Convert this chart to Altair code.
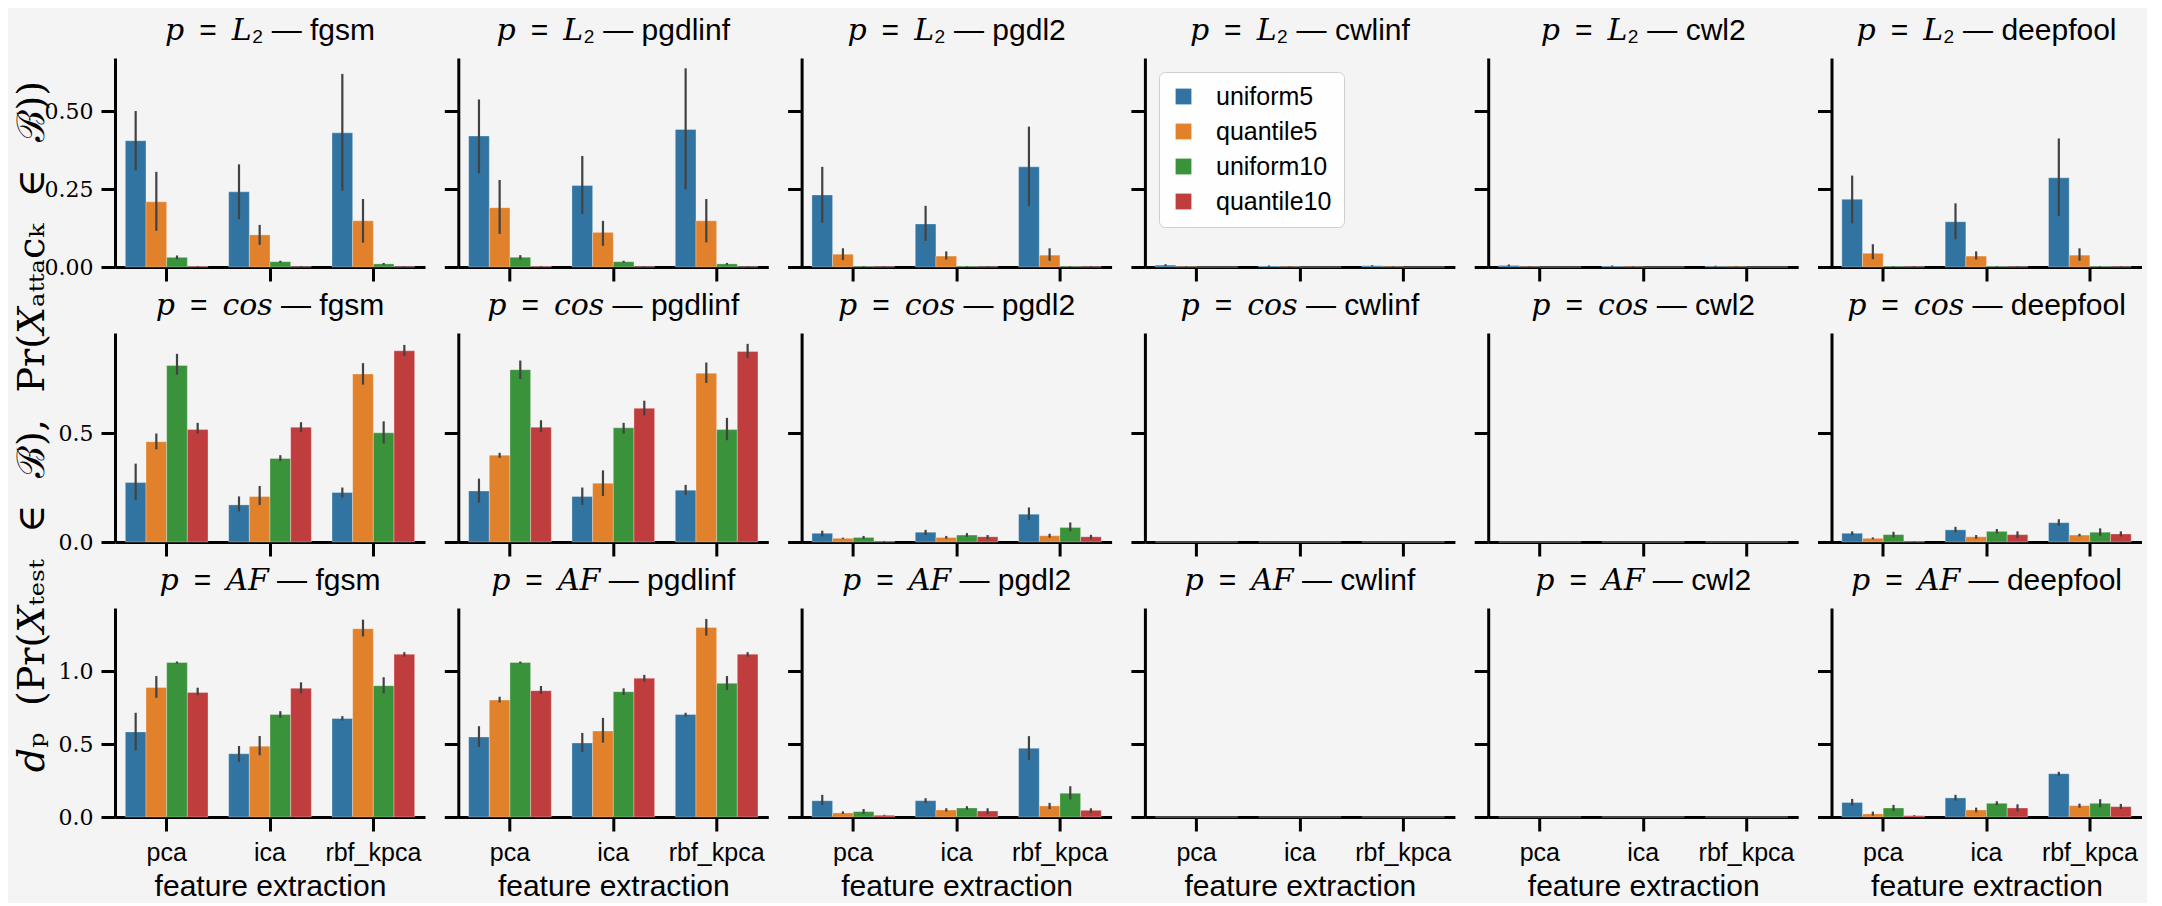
import altair as alt
import pandas as pd

METRICS = ["L2", "cos", "AF"]
METRIC_TEX = {"L2": "𝐿₂", "cos": "𝑐𝑜𝑠", "AF": "𝐴𝐹"}
ATTACKS = ["fgsm", "pgdlinf", "pgdl2", "cwlinf", "cwl2", "deepfool"]
METHODS = ["pca", "ica", "rbf_kpca"]
BINNINGS = ["uniform5", "quantile5", "uniform10", "quantile10"]
COLORS = ["#3274a1", "#e1812c", "#3a923a", "#c03d3e"]
Y_MAX = {"L2": 0.67, "cos": 0.963, "AF": 1.434}
Y_TICKS = {"L2": [0, 0.25, 0.5], "cos": [0, 0.5], "AF": [0, 0.5, 1.0]}
Y_FMT = {"L2": ".2f", "cos": ".1f", "AF": ".1f"}
SP = "\u2002\u2009"
Y_TITLE = f"𝑑ₚ{SP}(Pr(𝑋ₜₑₛₜ{SP}∈{SP}ℬ),{SP}Pr(𝑋ₐₜₜₐcₖ{SP}∈{SP}ℬ))"
X_TITLE = "feature extraction"

# 12 values per panel: [pca: u5,q5,u10,q10, ica: ..., rbf_kpca: ...]
ZERO = [0.0] * 12

MEAN_L2 = {
    "fgsm":     [0.405, 0.209, 0.031, 0.002, 0.241, 0.103, 0.017, 0.001, 0.430, 0.148, 0.010, 0.001],
    "pgdlinf":  [0.420, 0.190, 0.031, 0.002, 0.261, 0.111, 0.017, 0.001, 0.441, 0.148, 0.010, 0.001],
    "pgdl2":    [0.231, 0.041, 0.002, 0.001, 0.138, 0.035, 0.002, 0.001, 0.321, 0.038, 0.002, 0.001],
    "cwlinf":   [0.006, 0.001, 0.000, 0.000, 0.003, 0.001, 0.000, 0.000, 0.004, 0.001, 0.000, 0.000],
    "cwl2":     [0.005, 0.001, 0.000, 0.000, 0.003, 0.001, 0.000, 0.000, 0.002, 0.001, 0.000, 0.000],
    "deepfool": [0.217, 0.044, 0.002, 0.001, 0.145, 0.035, 0.002, 0.001, 0.286, 0.038, 0.002, 0.001],
}
LO_L2 = {
    "fgsm":     [0.310, 0.116, 0.025, 0.001, 0.153, 0.071, 0.014, 0.000, 0.245, 0.078, 0.007, 0.000],
    "pgdlinf":  [0.300, 0.106, 0.024, 0.001, 0.170, 0.068, 0.014, 0.000, 0.249, 0.079, 0.007, 0.000],
    "pgdl2":    [0.142, 0.022, 0.001, 0.000, 0.084, 0.024, 0.001, 0.000, 0.196, 0.020, 0.001, 0.000],
    "cwlinf":   [0.003, 0.000, 0.000, 0.000, 0.001, 0.000, 0.000, 0.000, 0.002, 0.000, 0.000, 0.000],
    "cwl2":     [0.002, 0.000, 0.000, 0.000, 0.001, 0.000, 0.000, 0.000, 0.001, 0.000, 0.000, 0.000],
    "deepfool": [0.140, 0.025, 0.001, 0.000, 0.089, 0.024, 0.001, 0.000, 0.163, 0.020, 0.001, 0.000],
}
HI_L2 = {
    "fgsm":     [0.500, 0.305, 0.037, 0.003, 0.329, 0.135, 0.020, 0.002, 0.619, 0.218, 0.013, 0.002],
    "pgdlinf":  [0.537, 0.279, 0.038, 0.003, 0.356, 0.148, 0.020, 0.002, 0.637, 0.218, 0.013, 0.002],
    "pgdl2":    [0.321, 0.060, 0.003, 0.002, 0.196, 0.050, 0.003, 0.002, 0.450, 0.060, 0.003, 0.002],
    "cwlinf":   [0.009, 0.002, 0.000, 0.000, 0.005, 0.002, 0.000, 0.000, 0.006, 0.002, 0.000, 0.000],
    "cwl2":     [0.008, 0.002, 0.000, 0.000, 0.005, 0.002, 0.000, 0.000, 0.004, 0.002, 0.000, 0.000],
    "deepfool": [0.293, 0.073, 0.003, 0.002, 0.204, 0.050, 0.003, 0.002, 0.412, 0.060, 0.003, 0.002],
}

MEAN_COS = {
    "fgsm":     [0.274, 0.462, 0.813, 0.518, 0.171, 0.210, 0.385, 0.529, 0.228, 0.774, 0.503, 0.881],
    "pgdlinf":  [0.235, 0.400, 0.794, 0.529, 0.210, 0.271, 0.526, 0.616, 0.239, 0.778, 0.518, 0.878],
    "pgdl2":    [0.040, 0.017, 0.021, 0.003, 0.045, 0.021, 0.032, 0.024, 0.128, 0.029, 0.067, 0.024],
    "cwlinf":   ZERO,
    "cwl2":     ZERO,
    "deepfool": [0.040, 0.017, 0.034, 0.002, 0.056, 0.024, 0.049, 0.034, 0.089, 0.032, 0.045, 0.037],
}
LO_COS = {
    "fgsm":     [0.193, 0.427, 0.771, 0.500, 0.141, 0.171, 0.373, 0.506, 0.205, 0.725, 0.454, 0.858],
    "pgdlinf":  [0.182, 0.388, 0.751, 0.506, 0.171, 0.212, 0.500, 0.583, 0.217, 0.733, 0.469, 0.847],
    "pgdl2":    [0.026, 0.014, 0.014, 0.001, 0.032, 0.015, 0.024, 0.014, 0.102, 0.020, 0.049, 0.014],
    "cwlinf":   ZERO,
    "cwl2":     ZERO,
    "deepfool": [0.032, 0.013, 0.021, 0.001, 0.045, 0.015, 0.040, 0.018, 0.075, 0.026, 0.029, 0.026],
}
HI_COS = {
    "fgsm":     [0.361, 0.500, 0.867, 0.549, 0.210, 0.258, 0.400, 0.552, 0.251, 0.824, 0.556, 0.908],
    "pgdlinf":  [0.292, 0.411, 0.836, 0.561, 0.251, 0.330, 0.549, 0.651, 0.263, 0.827, 0.572, 0.913],
    "pgdl2":    [0.052, 0.020, 0.028, 0.005, 0.056, 0.028, 0.041, 0.032, 0.159, 0.038, 0.090, 0.033],
    "cwlinf":   ZERO,
    "cwl2":     ZERO,
    "deepfool": [0.049, 0.021, 0.047, 0.003, 0.070, 0.032, 0.060, 0.049, 0.105, 0.038, 0.063, 0.049],
}

MEAN_AF = {
    "fgsm":     [0.584, 0.889, 1.060, 0.855, 0.434, 0.485, 0.703, 0.883, 0.676, 1.292, 0.901, 1.117],
    "pgdlinf":  [0.549, 0.802, 1.060, 0.867, 0.508, 0.590, 0.860, 0.952, 0.703, 1.301, 0.917, 1.117],
    "pgdl2":    [0.112, 0.028, 0.037, 0.012, 0.112, 0.048, 0.062, 0.041, 0.472, 0.076, 0.163, 0.046],
    "cwlinf":   ZERO,
    "cwl2":     ZERO,
    "deepfool": [0.100, 0.021, 0.062, 0.009, 0.131, 0.048, 0.094, 0.062, 0.297, 0.078, 0.094, 0.071],
}
LO_AF = {
    "fgsm":     [0.457, 0.818, 1.053, 0.836, 0.377, 0.423, 0.681, 0.848, 0.662, 1.239, 0.848, 1.101],
    "pgdlinf":  [0.481, 0.786, 1.053, 0.844, 0.446, 0.510, 0.837, 0.929, 0.690, 1.244, 0.871, 1.100],
    "pgdl2":    [0.083, 0.021, 0.021, 0.009, 0.097, 0.037, 0.051, 0.021, 0.392, 0.055, 0.120, 0.028],
    "cwlinf":   ZERO,
    "cwl2":     ZERO,
    "deepfool": [0.078, 0.010, 0.040, 0.006, 0.113, 0.032, 0.081, 0.037, 0.283, 0.064, 0.067, 0.055],
}
HI_AF = {
    "fgsm":     [0.715, 0.967, 1.067, 0.887, 0.487, 0.556, 0.726, 0.924, 0.692, 1.354, 0.959, 1.131],
    "pgdlinf":  [0.623, 0.825, 1.067, 0.899, 0.577, 0.680, 0.883, 0.975, 0.715, 1.359, 0.967, 1.131],
    "pgdl2":    [0.152, 0.039, 0.055, 0.015, 0.129, 0.060, 0.074, 0.060, 0.555, 0.097, 0.211, 0.060],
    "cwlinf":   ZERO,
    "cwl2":     ZERO,
    "deepfool": [0.124, 0.037, 0.083, 0.012, 0.152, 0.064, 0.108, 0.087, 0.310, 0.092, 0.122, 0.090],
}

MEANS = {"L2": MEAN_L2, "cos": MEAN_COS, "AF": MEAN_AF}
LOS = {"L2": LO_L2, "cos": LO_COS, "AF": LO_AF}
HIS = {"L2": HI_L2, "cos": HI_COS, "AF": HI_AF}

SANS = "Liberation Sans, DejaVu Serif, DejaVu Sans"
SERIF = "DejaVu Serif"

LEGEND = alt.Legend(
    title=None, orient="none", legendX=1044, legendY=14,
    symbolType="square", symbolSize=250, symbolStrokeWidth=0,
    labelFont="Liberation Sans", labelFontSize=25, labelColor="black",
    labelOffset=20, rowPadding=9, padding=12,
    fillColor="rgba(255,255,255,0.85)", strokeColor="#cfcfcf",
    cornerRadius=6, labelLimit=400,
)


def panel(ri, ci, metric, attack):
    rows = []
    for mi, m in enumerate(METHODS):
        for bi, b in enumerate(BINNINGS):
            k = mi * 4 + bi
            rows.append({"method": m, "binning": b,
                         "value": MEANS[metric][attack][k],
                         "lo": LOS[metric][attack][k],
                         "hi": HIS[metric][attack][k]})
    df = pd.DataFrame(rows)
    last = ri == len(METRICS) - 1
    x = alt.X("method:N", sort=METHODS,
              scale=alt.Scale(domain=METHODS, paddingInner=0, paddingOuter=0),
              axis=alt.Axis(labels=last, title=X_TITLE if last else None))
    xo = alt.XOffset("binning:N", sort=BINNINGS,
                     scale=alt.Scale(domain=BINNINGS, paddingInner=0, paddingOuter=0.5))
    y = alt.Y("value:Q", scale=alt.Scale(domain=[0, Y_MAX[metric]], nice=False, zero=True),
              axis=alt.Axis(values=Y_TICKS[metric], format=Y_FMT[metric],
                            labels=(ci == 0), title=None))
    color = alt.Color("binning:N", sort=BINNINGS,
                      scale=alt.Scale(domain=BINNINGS, range=COLORS), legend=LEGEND)
    base = alt.Chart(df)
    bars = base.mark_bar(stroke="#ffffff", strokeWidth=0.6, strokeOpacity=0.5).encode(
        x=x, xOffset=xo, y=y, color=color)
    err = base.mark_rule(color="#424242", strokeWidth=2.2).encode(
        x=x, xOffset=xo, y=alt.Y("lo:Q"), y2="hi:Q")
    title = alt.TitleParams(f"𝑝\u2002=\u2002{METRIC_TEX[metric]} — {attack}", font=SANS,
                            fontSize=30, fontWeight="normal", color="black", offset=12)
    return alt.layer(bars, err).properties(width=310, height=209, title=title)


panels = [panel(ri, ci, m, a) for ri, m in enumerate(METRICS) for ci, a in enumerate(ATTACKS)]

chart = alt.ConcatChart(
    concat=panels, columns=6, bounds="flush",
    spacing=alt.RowColnumber(row=66, column=33.3),
    background="#f4f4f4",
    padding={"left": 6, "top": 8, "right": 5, "bottom": 2},
    title=alt.TitleParams(Y_TITLE, orient="left", anchor="middle",
                          angle=270, font=SERIF, fontSize=38, fontWeight="normal",
                          color="black", offset=-8, dx=32),
).configure_view(stroke=None).configure_axis(
    domainColor="black", domainWidth=3, tickColor="black", tickWidth=3, tickSize=14,
    grid=False, labelColor="black", titleColor="black", titleFontWeight="normal",
).configure_axisY(
    labelFont=SERIF, labelFontSize=22, labelPadding=8,
).configure_axisX(
    labelFont="Liberation Sans", labelFontSize=25, labelAngle=0, labelPadding=9,
    titleFont="Liberation Sans", titleFontSize=30, titlePadding=6,
)

chart.save("out.html", embed_options={"renderer": "svg", "actions": False})
